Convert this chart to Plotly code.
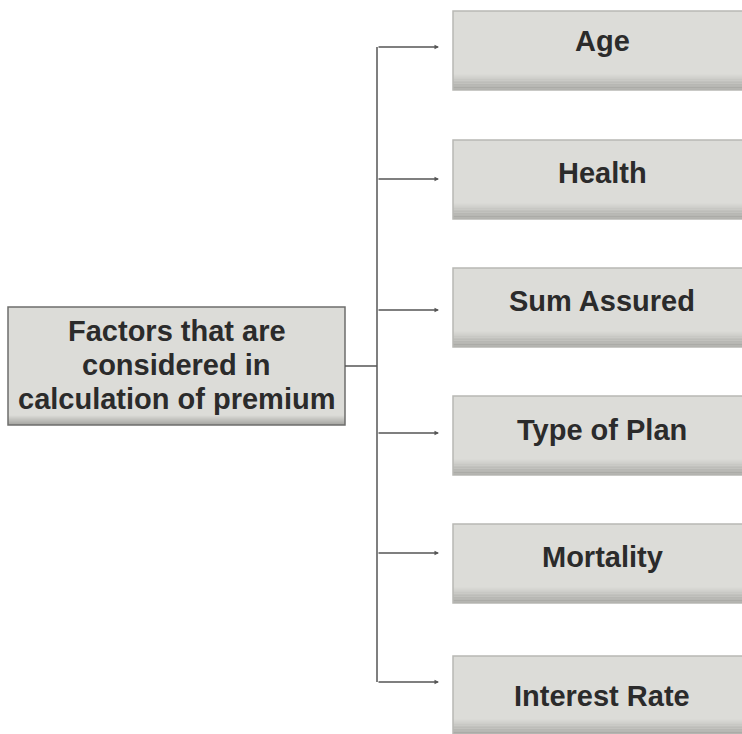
import plotly.graph_objects as go

# ---- content ----
root_lines = ["Factors that are", "considered in", "calculation of premium"]
factor_labels = ["Age", "Health", "Sum Assured", "Type of Plan", "Mortality", "Interest Rate"]

# ---- layout geometry (diagram coordinates, pixels of the page) ----
W, H = 742, 734
box_tops = [11, 140, 268, 396, 524, 656]
box_h = 79
box_x0, box_x1 = 453, 745
arrow_y = [47, 179, 310, 433, 553, 682]
text_y = [41, 173, 301, 430, 557, 696]
text_x = 602
trunk_x = 377
arrow_end = 439
root_x0, root_x1, root_y0, root_y1 = 8, 345, 307, 425
root_line_y = [331, 365, 399]
root_link_y = 366

FONT = "Liberation Sans, Arial, sans-serif"
FS = 29
fill = "#dcdcd8"

shapes = []
annotations = []


def gradient_box(x0, x1, y0, y1, border, shade_h):
    shapes.append(dict(type="rect", xref="x", yref="y", x0=x0, x1=x1, y0=y0, y1=y1,
                       fillcolor=fill, line=dict(width=0), layer="below"))
    n = 10
    cols_start = (218, 218, 214)
    cols_end = (166, 166, 162)
    for i in range(n):
        t = i / (n - 1)
        c = tuple(int(cols_start[k] + (cols_end[k] - cols_start[k]) * t) for k in range(3))
        sy0 = y1 - shade_h + shade_h * i / n
        sy1 = y1 - shade_h + shade_h * (i + 1) / n
        shapes.append(dict(type="rect", xref="x", yref="y", x0=x0, x1=x1, y0=sy0, y1=sy1,
                           fillcolor="rgb(%d,%d,%d)" % c, line=dict(width=0), layer="below"))
    shapes.append(dict(type="rect", xref="x", yref="y", x0=x0, x1=x1, y0=y0, y1=y1,
                       fillcolor="rgba(0,0,0,0)", line=dict(color=border, width=1.5)))


# root box
gradient_box(root_x0, root_x1, root_y0, root_y1, "#6e6e6c", 10)
for line, ly in zip(root_lines, root_line_y):
    annotations.append(dict(x=(root_x0 + root_x1) / 2, y=ly, xref="x", yref="y",
                            text="<b>" + line + "</b>", showarrow=False,
                            font=dict(family=FONT, size=FS, color="#2b2b2b")))

# trunk and connector
shapes.append(dict(type="line", x0=root_x1, x1=trunk_x, y0=root_link_y, y1=root_link_y,
                   line=dict(color="#555555", width=1.5)))
shapes.append(dict(type="line", x0=trunk_x, x1=trunk_x, y0=arrow_y[0], y1=arrow_y[-1],
                   line=dict(color="#555555", width=1.5)))

for lab, top, ay, ty in zip(factor_labels, box_tops, arrow_y, text_y):
    gradient_box(box_x0, box_x1, top, top + box_h, "#b8b8b4", 16)
    annotations.append(dict(x=arrow_end, y=ay, ax=trunk_x, ay=ay, xref="x", yref="y",
                            axref="x", ayref="y", text="", showarrow=True,
                            arrowhead=2, arrowsize=0.6, arrowwidth=1.5, arrowcolor="#555555"))
    annotations.append(dict(x=text_x, y=ty, xref="x", yref="y",
                            text="<b>" + lab + "</b>", showarrow=False,
                            font=dict(family=FONT, size=FS, color="#2b2b2b")))

fig = go.Figure()
fig.add_trace(go.Scatter(x=[0, W], y=[0, H], mode="markers", marker=dict(opacity=0),
                         hoverinfo="skip", showlegend=False))
fig.update_layout(
    width=W, height=H, margin=dict(l=0, r=0, t=0, b=0),
    paper_bgcolor="white", plot_bgcolor="white",
    xaxis=dict(range=[0, W], visible=False, fixedrange=True),
    yaxis=dict(range=[H, 0], visible=False, fixedrange=True),
    shapes=shapes, annotations=annotations, showlegend=False,
)
fig.write_html(
    "out.html",
    config={"displayModeBar": False},
    post_script="document.body.style.margin='0';document.body.style.overflow='hidden';",
)
